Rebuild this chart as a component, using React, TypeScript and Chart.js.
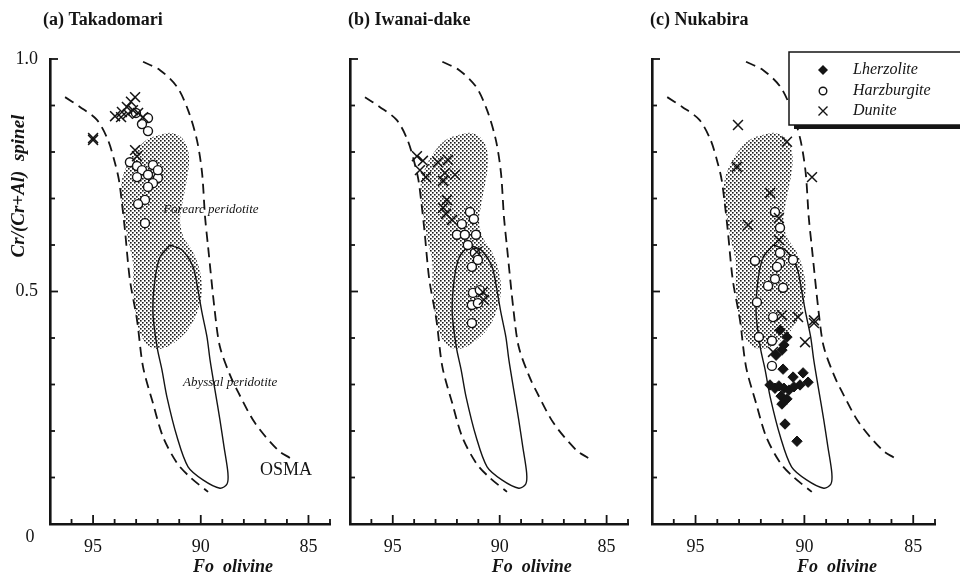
import React, { useEffect, useRef } from 'react';
import { Chart, registerables } from 'chart.js';

Chart.register(...registerables);

type Pt = [number, number];

// ---------- axes ----------
const FO_MIN = 84;
const FO_MAX = 97;
const CR_MIN = 0;
const CR_MAX = 1;
const FO_LABELS = [95, 90, 85];
const CR_LABELS = [0.5, 1.0];

// ---------- reference fields [Fo, Cr#] ----------
const OSMA_LEFT: Pt[] = [
  [96.3, 0.918], [95.61, 0.897], [94.82, 0.869], [94.31, 0.826], [93.98, 0.776], [93.8, 0.74],
  [93.66, 0.69], [93.52, 0.632], [93.29, 0.525], [92.96, 0.439], [92.68, 0.338], [92.22, 0.26],
  [91.75, 0.187], [91.1, 0.131], [90.5, 0.101], [89.66, 0.069],
];
const OSMA_RIGHT: Pt[] = [
  [92.68, 0.994], [91.89, 0.976], [91.1, 0.94], [90.59, 0.89], [90.18, 0.826], [89.94, 0.755],
  [89.8, 0.66], [89.66, 0.596], [89.34, 0.454], [89.11, 0.381], [88.64, 0.32], [88.27, 0.284],
  [87.48, 0.217], [86.42, 0.159], [85.86, 0.142],
];
const FOREARC_FIELD: Pt[] = [
  [91.89, 0.837], [91.34, 0.841], [90.87, 0.83], [90.59, 0.804], [90.55, 0.772], [90.69, 0.729],
  [90.87, 0.686], [90.96, 0.649], [90.78, 0.615], [90.41, 0.589], [90.08, 0.551], [89.94, 0.503],
  [90.13, 0.46], [90.5, 0.424], [91.06, 0.396], [91.75, 0.378], [92.36, 0.381], [92.82, 0.411],
  [93.05, 0.46], [93.15, 0.514], [93.15, 0.563], [93.38, 0.611], [93.56, 0.658], [93.7, 0.701],
  [93.66, 0.74], [93.38, 0.776], [92.91, 0.809], [92.45, 0.828], [91.89, 0.837],
];
const ABYSSAL_FIELD: Pt[] = [
  [91.43, 0.6], [90.87, 0.589], [90.36, 0.553], [90.13, 0.503], [89.94, 0.454], [89.71, 0.402],
  [89.57, 0.353], [89.34, 0.288], [89.11, 0.224], [88.92, 0.166], [88.74, 0.11], [88.78, 0.086],
  [89.11, 0.077], [89.9, 0.095], [90.59, 0.123], [91.1, 0.187], [91.57, 0.273], [91.8, 0.331],
  [92.03, 0.381], [92.22, 0.454], [92.13, 0.525], [91.89, 0.574], [91.43, 0.6],
];

// ---------- samples ----------
const A_DUNITE: Pt[] = [
  [93.98, 0.877], [93.66, 0.886], [93.43, 0.897], [93.24, 0.908], [93.05, 0.918], [93.7, 0.875],
  [93.38, 0.882], [93.15, 0.89], [92.91, 0.884], [92.68, 0.875], [93.05, 0.804], [92.96, 0.791],
  [95.0, 0.83], [95.0, 0.826],
];
const A_HARZBURGITE: Pt[] = [
  [92.45, 0.873], [92.73, 0.86], [92.45, 0.845], [93.01, 0.884], [93.29, 0.778], [92.96, 0.77],
  [92.22, 0.772], [92.73, 0.761], [92.45, 0.751], [91.99, 0.744], [92.96, 0.746], [92.22, 0.733],
  [92.45, 0.725], [91.99, 0.761], [92.59, 0.697], [92.91, 0.688], [92.59, 0.647],
];
const B_DUNITE: Pt[] = [
  [93.87, 0.791], [93.59, 0.781], [93.73, 0.761], [93.45, 0.746], [92.89, 0.778], [92.42, 0.783],
  [92.56, 0.755], [92.09, 0.751], [92.65, 0.738], [92.47, 0.697], [92.65, 0.68], [92.51, 0.667],
  [92.23, 0.654], [91.07, 0.585], [90.79, 0.499], [90.74, 0.482],
];
const B_HARZBURGITE: Pt[] = [
  [91.39, 0.671], [91.21, 0.656], [91.77, 0.645], [92.0, 0.622], [91.63, 0.622], [91.11, 0.622],
  [91.49, 0.6], [91.16, 0.583], [91.02, 0.568], [91.3, 0.553], [91.25, 0.497], [90.93, 0.503],
  [91.3, 0.471], [91.02, 0.475], [91.3, 0.432],
];
const C_DUNITE: Pt[] = [
  [93.05, 0.858], [90.8, 0.822], [89.65, 0.746], [93.1, 0.768], [91.58, 0.712], [92.59, 0.643],
  [91.17, 0.658], [91.17, 0.611], [91.03, 0.449], [90.29, 0.445], [89.56, 0.432], [89.56, 0.438],
  [89.97, 0.391], [91.44, 0.37],
];
const C_HARZBURGITE: Pt[] = [
  [91.35, 0.671], [91.12, 0.637], [91.12, 0.583], [90.52, 0.568], [92.27, 0.566], [91.12, 0.561],
  [91.26, 0.553], [91.35, 0.527], [91.67, 0.512], [90.98, 0.508], [92.18, 0.477], [91.44, 0.445],
  [92.09, 0.402], [91.49, 0.394], [91.49, 0.34],
];
const C_LHERZOLITE: Pt[] = [
  [91.12, 0.417], [90.8, 0.402], [90.94, 0.385], [91.03, 0.374], [91.3, 0.363], [90.98, 0.333],
  [90.52, 0.316], [90.06, 0.325], [89.83, 0.305], [90.2, 0.299], [91.58, 0.299], [91.35, 0.292],
  [91.17, 0.297], [90.94, 0.292], [90.71, 0.288], [90.48, 0.295], [91.07, 0.275], [90.8, 0.269],
  [91.03, 0.258], [90.89, 0.215], [90.34, 0.178],
];

const LEGEND_ITEMS = ['Lherzolite', 'Harzburgite', 'Dunite'];
const FIELD_LABELS = [
  { text: 'Forearc peridotite', fo: 89.53, cr: 0.677, style: 'italic', size: 13 },
  { text: 'Abyssal peridotite', fo: 88.64, cr: 0.305, style: 'italic', size: 13 },
  { text: 'OSMA', fo: 86.04, cr: 0.116, style: 'normal', size: 18 },
];

const INK = '#141414';
const SERIF = '"Liberation Serif", "Times New Roman", serif';

const PANELS = [
  { id: 'a', title: '(a) Takadomari', left: 50, right: 330, titleDx: -7, dunite: A_DUNITE, harz: A_HARZBURGITE, lherz: [] as Pt[], yLabels: true, fieldLabels: true, legend: false },
  { id: 'b', title: '(b) Iwanai-dake', left: 350, right: 628, titleDx: -2, dunite: B_DUNITE, harz: B_HARZBURGITE, lherz: [] as Pt[], yLabels: false, fieldLabels: false, legend: false },
  { id: 'c', title: '(c) Nukabira', left: 652, right: 935, titleDx: -2, dunite: C_DUNITE, harz: C_HARZBURGITE, lherz: C_LHERZOLITE, yLabels: false, fieldLabels: false, legend: true },
];

const toXY = (a: Pt[]) => a.map(([x, y]) => ({ x, y }));

function makeStipple(): CanvasPattern | string {
  const c = document.createElement('canvas');
  c.width = 4;
  c.height = 4;
  const g = c.getContext('2d');
  if (!g) return 'rgba(0,0,0,0.3)';
  g.fillStyle = '#1a1a1a';
  g.fillRect(0, 0, 1.6, 1.6);
  g.fillRect(2, 2, 1.6, 1.6);
  return g.createPattern(c, 'repeat') || 'rgba(0,0,0,0.3)';
}

function decorPlugin(panel: any) {
  return {
    id: 'decor' + panel.id,
    afterDraw(chart: any) {
      const { ctx, chartArea: ca } = chart;
      const xs = chart.scales.x;
      const ys = chart.scales.y;
      ctx.save();
      ctx.strokeStyle = INK;
      ctx.fillStyle = INK;
      ctx.lineWidth = 1.8;
      // inward tick marks, placed by the library's scales
      xs.ticks.forEach((t: any) => {
        const px = xs.getPixelForValue(t.value);
        const len = Math.abs(t.value % 5) < 1e-6 ? 9 : 5;
        ctx.beginPath();
        ctx.moveTo(px, ca.bottom);
        ctx.lineTo(px, ca.bottom - len);
        ctx.stroke();
      });
      ys.ticks.forEach((t: any) => {
        const py = ys.getPixelForValue(t.value);
        const major = Math.abs(t.value * 2 - Math.round(t.value * 2)) < 1e-6;
        const len = major ? 8 : 5;
        ctx.beginPath();
        ctx.moveTo(ca.left, py);
        ctx.lineTo(ca.left + len, py);
        ctx.stroke();
      });

      // panel title
      ctx.textBaseline = 'middle';
      ctx.textAlign = 'left';
      ctx.font = `bold 18px ${SERIF}`;
      ctx.fillText(panel.title, ca.left + panel.titleDx, 20);

      // x title
      ctx.textAlign = 'center';
      ctx.font = `italic bold 18px ${SERIF}`;
      ctx.fillText('Fo  olivine', xs.getPixelForValue(88.5), 567);

      if (panel.yLabels) {
        ctx.font = `18px ${SERIF}`;
        ctx.textAlign = 'right';
        CR_LABELS.forEach((v) => ctx.fillText(v.toFixed(1), ca.left - 12, ys.getPixelForValue(v)));
        ctx.textAlign = 'center';
        ctx.fillText('0', ca.left - 20, ca.bottom + 13);
        ctx.save();
        ctx.translate(19, 186);
        ctx.rotate(-Math.PI / 2);
        ctx.font = `italic bold 19px ${SERIF}`;
        ctx.fillText('Cr/(Cr+Al)  spinel', 0, 0);
        ctx.restore();
      }

      if (panel.fieldLabels) {
        ctx.textAlign = 'center';
        FIELD_LABELS.forEach((f) => {
          ctx.font = `${f.style} ${f.size}px ${SERIF}`;
          ctx.fillText(f.text, xs.getPixelForValue(f.fo), ys.getPixelForValue(f.cr));
        });
      }

      if (panel.legend) {
        const lx = ca.left + 137;
        const ly = 52;
        const lw = 200;
        const lh = 73;
        ctx.fillStyle = '#fff';
        ctx.fillRect(lx, ly, lw, lh);
        ctx.lineWidth = 1.5;
        ctx.strokeRect(lx, ly, lw, lh);
        ctx.fillStyle = INK;
        ctx.fillRect(lx + 5, ly + lh, lw, 4);
        const sx = lx + 34;
        const rows = [70, 91, 111];
        ctx.beginPath();
        ctx.moveTo(sx, rows[0] - 5);
        ctx.lineTo(sx + 5, rows[0]);
        ctx.lineTo(sx, rows[0] + 5);
        ctx.lineTo(sx - 5, rows[0]);
        ctx.closePath();
        ctx.fill();
        ctx.lineWidth = 1.4;
        ctx.beginPath();
        ctx.arc(sx, rows[1], 3.8, 0, Math.PI * 2);
        ctx.stroke();
        ctx.beginPath();
        ctx.moveTo(sx - 4.5, rows[2] - 4.5);
        ctx.lineTo(sx + 4.5, rows[2] + 4.5);
        ctx.moveTo(sx + 4.5, rows[2] - 4.5);
        ctx.lineTo(sx - 4.5, rows[2] + 4.5);
        ctx.stroke();
        ctx.textAlign = 'left';
        ctx.font = `italic 16px ${SERIF}`;
        LEGEND_ITEMS.forEach((t, i) => ctx.fillText(t, lx + 64, rows[i]));
      }
      ctx.restore();
    },
  };
}

function makeConfig(panel: any, stipple: CanvasPattern | string): any {
  const datasets: any[] = [
    {
      label: 'Dunite', data: toXY(panel.dunite), order: 0,
      pointStyle: 'crossRot', pointRadius: 7, borderColor: INK, borderWidth: 1.5, backgroundColor: INK,
    },
    {
      label: 'Harzburgite', data: toXY(panel.harz), order: 1,
      pointStyle: 'circle', pointRadius: 4.5, borderColor: INK, borderWidth: 1.4, backgroundColor: '#fff',
    },
    {
      label: 'Lherzolite', data: toXY(panel.lherz), order: 2,
      pointStyle: 'rectRot', pointRadius: 5.2, borderColor: INK, borderWidth: 1, backgroundColor: INK,
    },
    {
      type: 'line', label: 'Abyssal peridotite', data: toXY(ABYSSAL_FIELD), order: 5,
      borderColor: INK, borderWidth: 1.4, pointRadius: 0, fill: false, tension: 0.3,
    },
    {
      type: 'line', label: 'OSMA left', data: toXY(OSMA_LEFT), order: 6,
      borderColor: INK, borderWidth: 1.8, borderDash: [10, 6], pointRadius: 0, fill: false, tension: 0.3,
    },
    {
      type: 'line', label: 'OSMA right', data: toXY(OSMA_RIGHT), order: 7,
      borderColor: INK, borderWidth: 1.8, borderDash: [10, 6], pointRadius: 0, fill: false, tension: 0.3,
    },
    {
      type: 'line', label: 'Forearc peridotite', data: toXY(FOREARC_FIELD), order: 10,
      borderWidth: 0, borderColor: 'rgba(0,0,0,0)', backgroundColor: stipple, pointRadius: 0,
      fill: 'shape', tension: 0.35,
    },
  ];
  return {
    type: 'scatter',
    data: { datasets },
    options: {
      animation: false,
      responsive: false,
      maintainAspectRatio: false,
      events: [],
      layout: { padding: { left: panel.left, right: 960 - panel.right, top: 59, bottom: 0 } },
      plugins: { legend: { display: false }, tooltip: { enabled: false }, title: { display: false } },
      scales: {
        x: {
          type: 'linear', min: FO_MIN, max: FO_MAX, reverse: true,
          grid: { display: false },
          border: { display: true, color: INK, width: 2.6 },
          ticks: {
            stepSize: 1, autoSkip: false, maxRotation: 0, padding: 4, color: INK,
            font: { family: SERIF, size: 18 },
            callback: (v: number) => (FO_LABELS.some((l) => Math.abs(l - v) < 1e-6) ? String(v) : ''),
          },
          afterFit: (s: any) => { s.height = 52; },
        },
        y: {
          type: 'linear', min: CR_MIN, max: CR_MAX,
          grid: { display: false },
          border: { display: true, color: INK, width: 2.6 },
          ticks: { display: false, stepSize: 0.1, autoSkip: false },
          afterFit: (s: any) => { s.width = 0; },
        },
      },
    },
    plugins: [decorPlugin(panel)],
  };
}

export default function App() {
  const r0 = useRef<HTMLCanvasElement>(null);
  const r1 = useRef<HTMLCanvasElement>(null);
  const r2 = useRef<HTMLCanvasElement>(null);
  const refs = [r0, r1, r2];

  useEffect(() => {
    const stipple = makeStipple();
    const charts = PANELS.map((p, i) => new Chart(refs[i].current as HTMLCanvasElement, makeConfig(p, stipple)));
    return () => charts.forEach((c) => c.destroy());
  }, []);

  return (
    <div style={{ position: 'absolute', left: 0, top: 0, width: 960, height: 576, background: '#fff', overflow: 'hidden' }}>
      {PANELS.map((p, i) => (
        <canvas
          key={p.id}
          ref={refs[i]}
          width={960}
          height={576}
          style={{ position: 'absolute', left: 0, top: 0, width: 960, height: 576 }}
        />
      ))}
    </div>
  );
}
